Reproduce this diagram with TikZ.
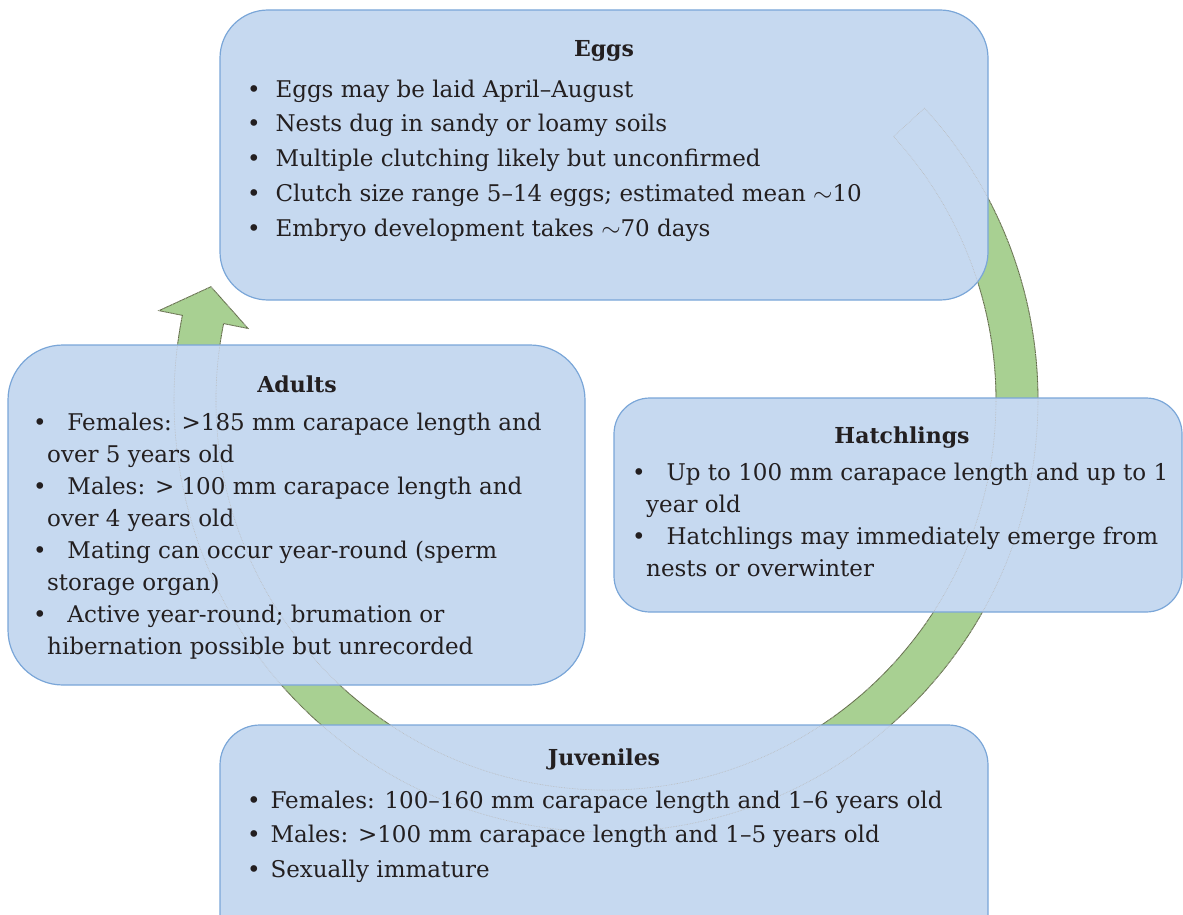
\documentclass[tikz,border=0pt]{standalone}
\usepackage{fontspec}
\setmainfont{DejaVu Serif}
\usetikzlibrary{positioning, calc}

\definecolor{boxfill}{RGB}{198,217,240}
\definecolor{boxline}{RGB}{122,166,216}
\definecolor{arrowfill}{RGB}{168,208,146}
\definecolor{arrowline}{RGB}{84,98,52}
\definecolor{inktext}{RGB}{35,31,32}

\tikzset{
  stage/.style={draw=boxline, fill=boxfill, line width=1.2pt, rounded corners=#1, inner sep=0pt},
  stagetitle/.style={font=\bfseries\fontsize{22}{26}\selectfont, text=inktext, anchor=base, inner sep=0pt},
  stagetext/.style={font=\fontsize{23}{#1}\selectfont, text=inktext, align=left, anchor=base west, inner sep=0pt},
}
\newcommand{\itm}[1][20pt]{\makebox[#1][l]{\textbullet}}
\newcommand{\cont}{\hspace*{14pt}}
\newcommand{\cyclepath}{(ctr) ++(-42.5:432) arc[start angle=-42.5, end angle=191.3, radius=432]
  -- ($(ctr)+(191.3:456)$) -- ($(ctr)+(196:411)$) -- ($(ctr)+(191.3:365)$)
  -- ($(ctr)+(191.3:390)$) arc[start angle=191.3, end angle=-42.5, radius=390] -- cycle}

\begin{document}
\begin{tikzpicture}[x=1pt, y=-1pt]
  \useasboundingbox (0,0) rectangle (1183,915);
  \clip (0,0) rectangle (1183,915);
  \coordinate (ctr) at (606,400);

  % green cycle arrow behind the boxes
  \draw[fill=arrowfill, draw=arrowline, line width=0.8pt] \cyclepath;

  % stage boxes
  \node[stage=48pt, minimum width=768pt, minimum height=290pt] (eggs) at (604,155) {};
  \node[stage=55pt, minimum width=577pt, minimum height=340pt] (adults) at (296.5,515) {};
  \node[stage=36pt, minimum width=568pt, minimum height=214pt] (hatch) at (898,505) {};
  \node[stage=40pt, minimum width=768pt, minimum height=240pt] (juv) at (604,845) {};

  % faint outline of the arrow over the boxes
  \draw[gray!55, densely dotted, line width=0.6pt] \cyclepath;

  % titles
  \node[stagetitle] (eggsT) at (604,57) {Eggs};
  \node[stagetitle] (adultsT) at (297,392) {Adults};
  \node[stagetitle] (hatchT) at (902,443) {Hatchlings};
  \node[stagetitle] (juvT) at (604,765) {Juveniles};

  % bullet texts (anchored at the last baseline)
  \node[stagetext=34.7] (eggsB) at (247,236) {%
    \itm[21pt] Eggs may be laid April–August\\
    \itm[21pt] Nests dug in sandy or loamy soils\\
    \itm[21pt] Multiple clutching likely but unconfirmed\\
    \itm[21pt] Clutch size range 5–14 eggs; estimated mean $\sim$10\\
    \itm[21pt] Embryo development takes $\sim$70 days};
  \node[stagetext=31.9] (adultsB) at (33,654) {%
    \itm[27pt] Females: >185 mm carapace length and\\
    \cont over 5 years old\\
    \itm[27pt] Males: > 100 mm carapace length and\\
    \cont over 4 years old\\
    \itm[27pt] Mating can occur year-round (sperm\\
    \cont storage organ)\\
    \itm[27pt] Active year-round; brumation or\\
    \cont hibernation possible but unrecorded};
  \node[stagetext=31.7] (hatchB) at (632,576) {%
    \itm[27pt] Up to 100 mm carapace length and up to 1\\
    \cont year old\\
    \itm[27pt] Hatchlings may immediately emerge from\\
    \cont nests or overwinter};
  \node[stagetext=34.5] (juvB) at (247,877) {%
    \itm[16pt] Females: 100–160 mm carapace length and 1–6 years old\\
    \itm[16pt] Males: >100 mm carapace length and 1–5 years old\\
    \itm[16pt] Sexually immature};
\end{tikzpicture}
\end{document}
